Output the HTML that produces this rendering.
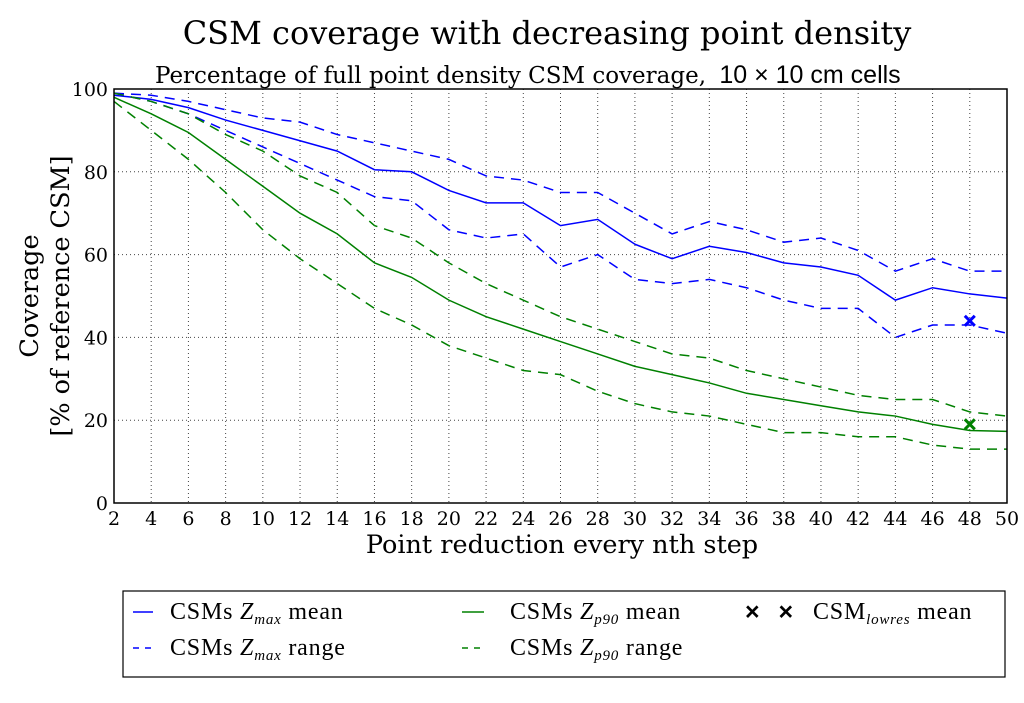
<!DOCTYPE html>
<html><head><meta charset="utf-8"><style>
body{margin:0;background:#fff;width:1024px;height:698px;overflow:hidden}
svg{font-family:"DejaVu Serif","Liberation Serif",serif}
</style></head><body>
<svg id="chart" width="1024" height="698">
<text x="547" y="44" font-size="32" text-anchor="middle">CSM coverage with decreasing point density</text>
<text x="155" y="83" font-size="23">Percentage of full point density CSM coverage, <tspan font-family="Liberation Sans, sans-serif" font-size="25" dx="6">10 × 10 cm cells</tspan></text>
<g id="grid"></g>
<g id="series"></g>
<rect x="114" y="89" width="893" height="414" fill="none" stroke="#000" stroke-width="1.5"/>
<g id="ticks" font-size="19"></g>
<text x="562" y="553" font-size="25.5" text-anchor="middle">Point reduction every nth step</text>
<g transform="translate(38,296) rotate(-90)">
<text x="0" y="0" font-size="25.5" text-anchor="middle">Coverage</text>
<text x="0" y="31" font-size="25.5" text-anchor="middle">[% of reference CSM]</text>
</g>
<g font-size="24" font-family="Liberation Serif, serif" letter-spacing="0.8">
<rect x="123" y="591" width="882" height="86" fill="#fff" stroke="#000" stroke-width="1.2"/>
<line x1="133" y1="612" x2="153" y2="612" stroke="#0000ff" stroke-width="1.5"/>
<text x="170" y="619">CSMs <tspan font-style="italic">Z</tspan><tspan font-style="italic" font-size="15" dy="5">max</tspan><tspan dy="-5"> mean</tspan></text>
<line x1="133" y1="648" x2="153" y2="648" stroke="#0000ff" stroke-width="1.5" stroke-dasharray="6,6"/>
<text x="170" y="655">CSMs <tspan font-style="italic">Z</tspan><tspan font-style="italic" font-size="15" dy="5">max</tspan><tspan dy="-5"> range</tspan></text>
<line x1="462" y1="612" x2="484" y2="612" stroke="#008000" stroke-width="1.5"/>
<text x="510" y="619">CSMs <tspan font-style="italic">Z</tspan><tspan font-style="italic" font-size="15" dy="5">p90</tspan><tspan dy="-5"> mean</tspan></text>
<line x1="462" y1="648" x2="484" y2="648" stroke="#008000" stroke-width="1.5" stroke-dasharray="6,6"/>
<text x="510" y="655">CSMs <tspan font-style="italic">Z</tspan><tspan font-style="italic" font-size="15" dy="5">p90</tspan><tspan dy="-5"> range</tspan></text>
<text x="745" y="620" font-family="Liberation Sans, sans-serif" font-weight="bold" font-size="25" letter-spacing="6">× ×</text>
<text x="813" y="619">CSM<tspan font-style="italic" font-size="15" dy="5">lowres</tspan><tspan dy="-5"> mean</tspan></text>
</g>
</svg>
<script>
const xs=[2,4,6,8,10,12,14,16,18,20,22,24,26,28,30,32,34,36,38,40,42,44,46,48,50];
const yTicks=[0,20,40,60,80,100];
const zmaxMean=[98.5,97.5,95.5,92.5,90,87.5,85,80.5,80,75.5,72.5,72.5,67,68.5,62.5,59,62,60.5,58,57,55,49,52,50.5,49.5];
const zmaxUpper=[99,98.5,97,95,93,92,89,87,85,83,79,78,75,75,70,65,68,66,63,64,61,56,59,56,56];
const zmaxLower=[99,97,94,90,86,82,78,74,73,66,64,65,57,60,54,53,54,52,49,47,47,40,43,43,41];
const zp90Mean=[98,94,89.5,83,76.5,70,65,58,54.5,49,45,42,39,36,33,31,29,26.5,25,23.5,22,21,19,17.5,17.3];
const zp90Upper=[99,97,94,89,85,79,75,67,64,58,53,49,45,42,39,36,35,32,30,28,26,25,25,22,21];
const zp90Lower=[97,90,83,75,66,59,53,47,43,38,35,32,31,27,24,22,21,19,17,17,16,16,14,13,13];
const lowresX=[48,48];
const lowresY=[44,19];
const NS='http://www.w3.org/2000/svg';
const X=v=>114+(v-2)/48*893, Y=v=>503-v/100*414;
function mk(t,a,p){const e=document.createElementNS(NS,t);for(const k in a)e.setAttribute(k,a[k]);p.appendChild(e);return e;}
const grid=document.getElementById('grid'),ticks=document.getElementById('ticks'),ser=document.getElementById('series');
xs.forEach(v=>{
 const l=mk('line',{x1:X(v),x2:X(v),y1:89,y2:503,stroke:'#444','stroke-width':1,'stroke-dasharray':'1,3'},grid);
 
 
 const t=mk('text',{x:X(v),y:525,'text-anchor':'middle'},ticks);t.textContent=v;
 
 
});
yTicks.forEach(v=>{
 const l=mk('line',{x1:114,x2:1007,y1:Y(v),y2:Y(v),stroke:'#444','stroke-width':1,'stroke-dasharray':'1,3'},grid);
 
 
 const t=mk('text',{x:108,y:Y(v)+7,'text-anchor':'end'},ticks);t.textContent=v;
 
 
});
function line(arr,col,dash,name){
 const p=mk('polyline',{points:arr.map((v,i)=>X(xs[i])+','+Y(v)).join(' '),fill:'none',stroke:col,'stroke-width':1.5},ser);
 if(dash)p.setAttribute('stroke-dasharray','10,7');
 
 
}
line(zmaxMean,'#0000ff',0,'zmax-mean-line');
line(zmaxUpper,'#0000ff',1,'zmax-upper-range');
line(zmaxLower,'#0000ff',1,'zmax-lower-range');
line(zp90Mean,'#008000',0,'zp90-mean-line');
line(zp90Upper,'#008000',1,'zp90-upper-range');
line(zp90Lower,'#008000',1,'zp90-lower-range');
['#0000ff','#008000'].forEach((c,i)=>{
 const cx=X(lowresX[i]),cy=Y(lowresY[i]),s=5;
 const g=mk('path',{d:`M${cx-s},${cy-s}L${cx+s},${cy+s}M${cx-s},${cy+s}L${cx+s},${cy-s}`,stroke:c,'stroke-width':3},ser);
 
 
});
</script>
</body></html>
